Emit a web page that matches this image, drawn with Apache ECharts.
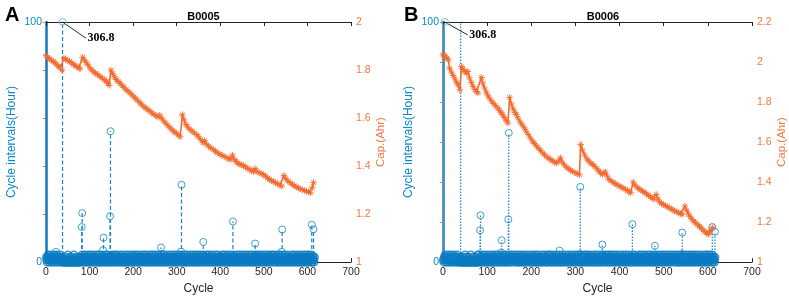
<!DOCTYPE html>
<html><head><meta charset="utf-8">
<script src="https://cdn.jsdelivr.net/npm/echarts@6/dist/echarts.min.js"></script>
<style>html,body{margin:0;padding:0;background:#fff}#c{width:789px;height:300px}</style>
</head><body><div id="c"></div>
<script>
// ---------- data ----------
const xTicks = [0, 100, 200, 300, 400, 500, 600, 700];
const titles = ['B0005', 'B0006'];
const panelLetters = ['A', 'B'];

// cycle interval (hours) for every cycle 1..616 (near-zero band)
const bandA = [
2,1,0,2,3,1,1,0,2,1,3,2,0,1,2,1,0,3,1,2,1,0,2,1,3,1,0,2,2,1,0,1,3,2,1,0,2,1,0,1,
0,0,1,0,2,0,0,1,0,3,0,0,1,2,0,0,1,0,2,0,1,0,0,3,0,1,0,0,2,0,0,1,0,2,1,0,0,2,0,1,
2,1,3,0,1,2,1,0,3,2,1,0,1,2,0,3,1,1,2,0,1,3,0,2,1,1,0,2,3,1,0,1,2,1,0,2,3,1,1,0,
1,3,0,2,1,0,1,2,3,0,1,2,1,0,2,1,3,1,0,2,1,0,3,2,1,0,1,2,0,1,3,2,1,0,2,1,1,3,0,2,
3,1,0,2,1,2,0,1,3,1,0,2,1,1,0,3,2,1,0,1,2,0,1,3,1,2,0,1,0,2,3,1,1,0,2,1,0,3,1,2,
0,2,1,3,1,0,1,2,0,3,1,2,1,0,2,1,0,3,2,1,1,0,2,1,3,0,1,2,1,0,3,1,2,0,1,1,2,0,3,1,
1,0,2,3,1,2,0,1,1,3,0,2,1,0,2,1,3,1,0,2,2,1,0,3,1,1,2,0,1,3,1,0,2,1,0,2,3,1,0,1,
2,1,1,0,3,2,1,0,1,2,3,1,0,2,1,0,1,3,2,0,1,1,2,0,3,1,0,2,1,1,3,0,2,1,0,1,2,3,1,0,
0,1,3,2,1,0,2,1,0,3,1,1,2,0,1,2,3,0,1,1,0,2,3,1,2,0,1,0,3,1,2,1,0,2,1,3,0,1,2,1,
3,0,1,2,1,0,2,3,1,1,0,2,1,3,0,1,2,1,0,3,2,1,0,1,1,2,0,3,1,0,2,1,1,3,0,2,1,0,1,2,
1,2,0,3,1,1,0,2,1,3,0,1,2,0,1,3,1,2,0,1,0,2,1,3,1,0,2,1,1,0,3,2,1,0,1,2,0,1,3,1,
2,0,1,1,3,0,2,1,0,1,2,3,1,0,2,1,1,0,3,1,2,0,1,2,1,3,0,1,1,2,0,3,1,0,2,1,1,0,2,3,
0,1,2,3,1,0,1,2,0,1,3,2,1,0,1,2,0,3,1,1,2,0,1,3,0,2,1,1,0,2,3,1,0,1,2,1,0,3,2,1,
1,3,0,1,2,1,0,2,3,1,1,0,2,1,3,0,1,2,0,1,3,1,2,0,1,1,3,0,2,1,0,2,1,3,1,0,1,2,0,1,
2,1,0,3,1,2,0,1,1,3,0,2,1,1,0,2,3,1,0,1,2,1,0,3,1,2,0,1,1,0,2,3,1,0,2,1,1,3,0,2,
1,0,2,3,1,1,0,2,1,3,0,1,2,1,0,2];
const bandB = [
1,0,2,1,3,2,0,1,2,1,0,3,1,2,1,0,1,3,2,0,1,2,1,0,3,1,1,0,2,1,2,0,3,1,1,0,2,1,0,2,
0,1,0,0,2,0,1,0,0,3,0,0,2,0,1,0,0,2,0,0,1,0,3,0,0,1,0,2,0,0,1,0,0,2,0,1,0,0,3,0,
3,1,0,2,1,2,0,1,3,1,0,2,1,1,0,3,2,1,0,1,2,0,1,3,1,2,0,1,0,2,3,1,1,0,2,1,0,3,1,2,
0,1,3,2,1,0,2,1,0,3,1,1,2,0,1,2,3,0,1,1,0,2,3,1,2,0,1,0,3,1,2,1,0,2,1,3,0,1,2,1,
2,1,3,0,1,2,1,0,3,2,1,0,1,2,0,3,1,1,2,0,1,3,0,2,1,1,0,2,3,1,0,1,2,1,0,2,3,1,1,0,
1,2,0,3,1,1,0,2,1,3,0,1,2,0,1,3,1,2,0,1,0,2,1,3,1,0,2,1,1,0,3,2,1,0,1,2,0,1,3,1,
1,3,0,2,1,0,1,2,3,0,1,2,1,0,2,1,3,1,0,2,1,0,3,2,1,0,1,2,0,1,3,2,1,0,2,1,1,3,0,2,
2,0,1,1,3,0,2,1,0,1,2,3,1,0,2,1,1,0,3,1,2,0,1,2,1,3,0,1,1,2,0,3,1,0,2,1,1,0,2,3,
0,2,1,3,1,0,1,2,0,3,1,2,1,0,2,1,0,3,2,1,1,0,2,1,3,0,1,2,1,0,3,1,2,0,1,1,2,0,3,1,
1,3,0,1,2,1,0,2,3,1,1,0,2,1,3,0,1,2,0,1,3,1,2,0,1,1,3,0,2,1,0,2,1,3,1,0,1,2,0,1,
3,0,1,2,1,0,2,3,1,1,0,2,1,3,0,1,2,1,0,3,2,1,0,1,1,2,0,3,1,0,2,1,1,3,0,2,1,0,1,2,
1,0,2,3,1,2,0,1,1,3,0,2,1,0,2,1,3,1,0,2,2,1,0,3,1,1,2,0,1,3,1,0,2,1,0,2,3,1,0,1,
0,1,2,3,1,0,1,2,0,1,3,2,1,0,1,2,0,3,1,1,2,0,1,3,0,2,1,1,0,2,3,1,0,1,2,1,0,3,2,1,
2,1,1,0,3,2,1,0,1,2,3,1,0,2,1,0,1,3,2,0,1,1,2,0,3,1,0,2,1,1,3,0,2,1,0,1,2,3,1,0,
2,1,0,3,1,2,0,1,1,3,0,2,1,1,0,2,3,1,0,1,2,1,0,3,1,2,0,1,1,0,2,3,1,0,2,1,1,3,0,2,
0,1,2,3,1,1,0,2,1,3,0,1,2,1,0,2];

// larger cycle intervals (stems)
const spikeCyclesA = [23, 38, 82, 83, 131, 132, 147, 148, 264, 310, 311, 361, 429, 480, 541, 542, 610, 614];
const spikeValsA   = [4.3, 306.8, 14.6, 20.4, 5.0, 10.2, 19.1, 54.5, 6.1, 4.4, 32.2, 8.4, 16.9, 7.7, 4.3, 13.6, 15.6, 13.7];
const spikeCyclesB = [22, 40, 84, 85, 132, 133, 148, 149, 264, 310, 311, 361, 429, 480, 541, 542, 610, 616];
const spikeValsB   = [2.9, 306.8, 13.3, 19.5, 4.0, 9.1, 17.8, 53.8, 4.8, 3.3, 31.3, 7.3, 15.8, 6.8, 3.3, 12.3, 14.6, 12.6];

// annotation (data tip) of the out-of-range stem
const annotText = '306.8';
const annotCyclesA = [38, 92];
const annotValsA   = [100, 93.2];
const annotCyclesB = [4, 56];
const annotValsB   = [100, 94.6];

// capacity (Ahr)
const capCyclesA = [0,4,8,12,17,21,25,29,33,37, 41,45,49,54,59,63,67,71,75,78, 84,88,92,96,101,105,110,114,119,124,129,134,139,142,145, 149,153,157,161,166,170,175,179,184,188,193,197,202,206,211,216,220,225,230,234,239,243,248,252,257,261,265,270,275,280,285,290,294,299,303,308, 313,317,321,325,330,335,340,346,350,355,360,364,368,373,378,384,389,394,399,404,409,415,420,424,428,432,436,440,445, 449,453,458,463,468,472,476,480,484,489,494,499,504,509,513,518,522,527,532,537,541, 546,550,555,560,565,570,574,579,583,588,593,598,603,607,611,614];
const capValsA = [1.860,1.852,1.846,1.842,1.835,1.830,1.822,1.815,1.808,1.800, 1.849,1.846,1.840,1.836,1.829,1.824,1.818,1.814,1.809,1.805, 1.853,1.842,1.832,1.822,1.808,1.800,1.792,1.786,1.780,1.773,1.766,1.760,1.752,1.745,1.736, 1.800,1.785,1.772,1.760,1.752,1.745,1.735,1.727,1.718,1.712,1.704,1.697,1.688,1.681,1.672,1.663,1.655,1.647,1.640,1.634,1.628,1.621,1.615,1.610,1.604,1.612,1.600,1.588,1.578,1.568,1.559,1.550,1.543,1.537,1.530,1.522, 1.614,1.592,1.573,1.563,1.553,1.546,1.538,1.531,1.522,1.510,1.497,1.506,1.492,1.483,1.476,1.469,1.461,1.455,1.450,1.445,1.440,1.434,1.430,1.428,1.446,1.428,1.420,1.412,1.407, 1.405,1.402,1.396,1.390,1.385,1.381,1.377,1.389,1.378,1.372,1.368,1.364,1.358,1.350,1.344,1.339,1.336,1.330,1.326,1.321,1.316, 1.361,1.348,1.338,1.331,1.324,1.318,1.313,1.309,1.305,1.301,1.298,1.295,1.292,1.289,1.310,1.331];
const capCyclesB = [0,3,6,9,12,15,19,23,27,31,34,38, 42,45,49,53,56,60,64,68,72,76,79, 87,90,94,98,101,105,110,114,119,124,128,132,135,139,143,147, 151,155,159,163,166,170,175,179,184,188,193,198,203,207,212,216,221,226,230,235,240,244,249,253,257,262,266,270,275,280,285,289,294,299,304,309, 312,316,321,326,330,335,339,344,349,353,357,361,365,368,372,376,381,386,390,395,399,404,408,413,418,422,425, 431,435,440,444,448,452,457,461,466,470,474,478,483,487,491,495,499,504,508,512,517,521,525,530,534,538,542, 548,552,556,560,564,568,572,577,581,585,589,593,597,601,604,607,611];
const capValsB = [2.036,2.034,2.025,2.020,2.010,1.969,1.950,1.933,1.916,1.898,1.886,1.861, 1.977,1.965,1.953,1.944,1.953,1.920,1.898,1.878,1.862,1.852,1.845, 1.923,1.895,1.870,1.850,1.835,1.820,1.805,1.793,1.782,1.770,1.758,1.746,1.737,1.722,1.708,1.695, 1.823,1.790,1.765,1.748,1.737,1.720,1.700,1.686,1.671,1.655,1.638,1.620,1.604,1.593,1.580,1.570,1.558,1.545,1.536,1.526,1.518,1.512,1.505,1.500,1.495,1.505,1.521,1.500,1.485,1.474,1.466,1.459,1.453,1.447,1.442,1.436, 1.588,1.560,1.535,1.515,1.505,1.495,1.488,1.478,1.466,1.455,1.446,1.438,1.446,1.450,1.430,1.413,1.405,1.398,1.392,1.386,1.380,1.375,1.370,1.364,1.357,1.351,1.347, 1.400,1.385,1.373,1.366,1.360,1.355,1.348,1.340,1.333,1.326,1.320,1.314,1.338,1.315,1.300,1.293,1.287,1.282,1.277,1.272,1.266,1.260,1.256,1.251,1.246,1.242,1.239, 1.280,1.258,1.240,1.226,1.214,1.205,1.197,1.187,1.178,1.170,1.161,1.152,1.145,1.139,1.150,1.160,1.173];

// ---------- chart ----------
const BLUE = '#1486c8', BANDBLUE = '#0a7cc2', AXBLUE = '#0b88cc', ORANGE = '#f36a2e', ORLABEL = '#ec7a45';
const FONT = 'Liberation Sans, Arial, sans-serif';
const star = 'path://M5,0L5,10M0,5L10,5M1.5,1.5L8.5,8.5M1.5,8.5L8.5,1.5';

const panels = [
  {grid:{left:46,right:438,top:22,bottom:37}, capMax:2, rightColor:'#2a6ea6', dash:[4,2.5],
   band:bandA, sc:spikeCyclesA, sv:spikeValsA, ac:annotCyclesA, av:annotValsA, cc:capCyclesA, cv:capValsA},
  {grid:{left:443,right:36,top:22,bottom:37}, capMax:2.2, rightColor:'#62809b', dash:[1.5,1.5],
   band:bandB, sc:spikeCyclesB, sv:spikeValsB, ac:annotCyclesB, av:annotValsB, cc:capCyclesB, cv:capValsB}
];

const option = {animation:false, textStyle:{fontFamily:FONT}, grid:[], xAxis:[], yAxis:[], series:[], title:[]};
panels.forEach((p, k) => {
  option.grid.push(p.grid);
  const cx = p.grid.left + (789 - p.grid.left - p.grid.right) / 2;
  option.title.push({text:titles[k], left:cx, top:6, textAlign:'center',
    textStyle:{fontSize:11, fontWeight:'bold', color:'#000', fontFamily:FONT}});
  option.title.push({text:panelLetters[k], left:k === 0 ? 0 : 399, top:0,
    textStyle:{fontSize:20, fontWeight:'bold', color:'#000', fontFamily:FONT}});
  const xb = option.xAxis.length;
  option.xAxis.push({gridIndex:k, type:'value', min:xTicks[0], max:xTicks[xTicks.length-1], interval:100, position:'bottom',
    axisLine:{show:true, lineStyle:{color:'#222', width:1}}, axisTick:{show:true, inside:true, length:4, lineStyle:{color:'#222'}},
    axisLabel:{color:'#262626', fontSize:10.5, margin:5}, splitLine:{show:false},
    name:'Cycle', nameLocation:'middle', nameGap:18, nameTextStyle:{color:'#262626', fontSize:12}});
  option.xAxis.push({gridIndex:k, type:'value', min:xTicks[0], max:xTicks[xTicks.length-1], interval:100, position:'top',
    axisLine:{show:true, lineStyle:{color:'#222', width:1}}, axisTick:{show:true, inside:true, length:4, lineStyle:{color:'#222'}},
    axisLabel:{show:false}, splitLine:{show:false}});
  const yl = option.yAxis.length;
  option.yAxis.push({gridIndex:k, type:'value', min:0, max:100, interval:100, position:'left',
    axisLine:{show:true, lineStyle:{color:AXBLUE, width:2.5}}, axisTick:{show:false},
    axisLabel:{color:AXBLUE, fontSize:10.5, margin:4}, splitLine:{show:false},
    name:'Cycle intervals(Hour)', nameLocation:'middle', nameGap:28, nameRotate:90,
    nameTextStyle:{color:AXBLUE, fontSize:12}});
  option.yAxis.push({gridIndex:k, type:'value', min:1, max:p.capMax, interval:0.2, position:'right',
    axisLine:{show:true, lineStyle:{color:p.rightColor, width:1.3}},
    axisTick:{show:true, inside:true, length:3, lineStyle:{color:ORLABEL}},
    axisLabel:{color:ORLABEL, fontSize:10.5, margin:5}, splitLine:{show:false},
    name:'Cap.(Ahr)', nameLocation:'middle', nameGap:24, nameRotate:90,
    nameTextStyle:{color:ORLABEL, fontSize:11.5}});

  const ymax = 100;
  // stems
  option.series.push({type:'custom', xAxisIndex:xb, yAxisIndex:yl, clip:true,
    data:p.sc.map((c,i)=>[c, p.sv[i]]), encode:{x:0, y:1}, z:3,
    renderItem:(params, api) => {
      const c = api.value(0), v = api.value(1);
      const a = api.coord([c, 0]), b = api.coord([c, Math.min(v, ymax)]);
      return {type:'line', shape:{x1:a[0], y1:a[1], x2:b[0], y2:b[1]},
        style:{stroke:BLUE, lineWidth:1.2, lineDash:p.dash}};
    }});
  // band circles
  option.series.push({type:'scatter', xAxisIndex:xb, yAxisIndex:yl, clip:false, z:4,
    data:p.band.map((v,i)=>[i+1, v]), symbol:'circle', symbolSize:7.5,
    itemStyle:{color:'rgba(0,0,0,0)', borderColor:BANDBLUE, borderWidth:1.5}});
  // spike circles
  option.series.push({type:'scatter', xAxisIndex:xb, yAxisIndex:yl, clip:true, z:4,
    data:p.sc.map((c,i)=>[c, p.sv[i]]).filter(d => d[1] <= ymax), symbol:'circle', symbolSize:7,
    itemStyle:{color:'rgba(0,0,0,0)', borderColor:BLUE, borderWidth:1}});
  // annotation
  option.series.push({type:'line', xAxisIndex:xb, yAxisIndex:yl, clip:false, z:6,
    data:[
      {value:[p.ac[0], p.av[0]], symbol:'circle', symbolSize:7,
        itemStyle:{color:'rgba(0,0,0,0)', borderColor:'#7fbbe0', borderWidth:1}},
      {value:[p.ac[1], p.av[1]], symbol:'circle', symbolSize:1,
        itemStyle:{color:'rgba(0,0,0,0)', borderWidth:0},
        label:{show:true, position:'right', distance:1, formatter:annotText,
          fontFamily:'Liberation Serif, Times New Roman, serif', fontWeight:'bold', fontSize:12, color:'#000'}}
    ],
    lineStyle:{color:'#111', width:0.9}});
  // capacity
  option.series.push({type:'line', xAxisIndex:xb, yAxisIndex:yl+1, z:5,
    data:p.cc.map((c,i)=>[c, p.cv[i]]), symbol:star, symbolSize:6.5, showAllSymbol:true,
    lineStyle:{color:ORANGE, width:1.6},
    itemStyle:{color:ORANGE, borderColor:ORANGE, borderWidth:0.9}});
});

const chart = echarts.init(document.getElementById('c'), null, {renderer:'canvas'});
chart.setOption(option);
</script>
</body></html>
